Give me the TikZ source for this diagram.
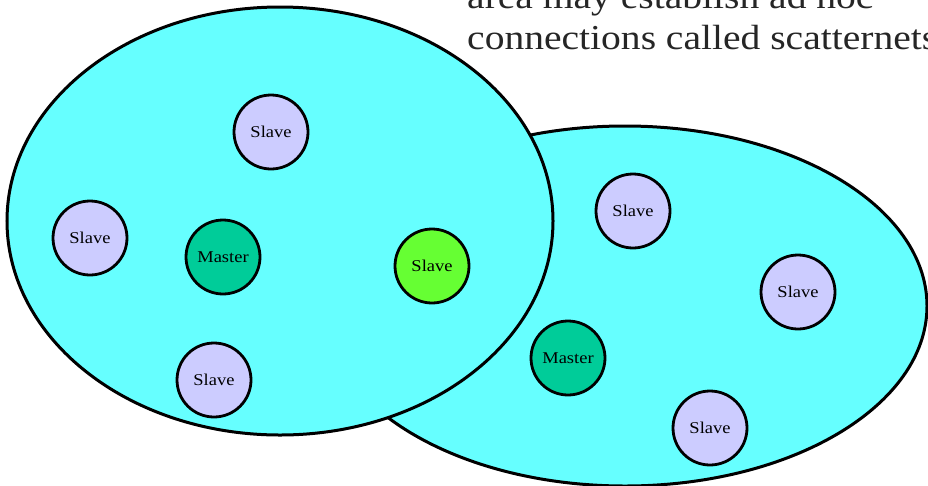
\documentclass[tikz,border=0pt]{standalone}
\usepackage{fontspec}
\newfontfamily\labfont[FakeStretch=1.12]{Liberation Serif}
\newfontfamily\capfont[FakeStretch=1.13]{Liberation Serif}
\definecolor{zonecyan}{HTML}{66FFFF}
\definecolor{slavefill}{HTML}{CCCCFF}
\definecolor{masterfill}{HTML}{00CC99}
\definecolor{bridgefill}{HTML}{66FF33}
\definecolor{captext}{HTML}{262626}
\tikzset{
  zone/.style={fill=zonecyan,draw=black,line width=3pt},
  device/.style={circle,draw=black,line width=2.8pt,minimum size=74pt,inner sep=0pt,
    font=\labfont\fontsize{16.5}{18}\selectfont,text=black},
  slavenode/.style={device,fill=slavefill},
  masternode/.style={device,fill=masterfill},
  bridgenode/.style={device,fill=bridgefill},
  captionline/.style={anchor=base west,inner sep=0pt,text=captext,
    font=\capfont\fontsize{35}{40}\selectfont}
}
\begin{document}
\begin{tikzpicture}[x=1pt,y=-1pt]
\useasboundingbox (0,0) rectangle (928,485);
\clip (0,0) rectangle (928,485);
\fill[white] (0,0) rectangle (928,485);
% text lines (partly cut off, as in the reference)
\node[captionline] (line1) at (467,8) {area may establish ad hoc};
\node[captionline] (line2) at (467,49) {connections called scatternets};
% piconets
\draw[zone] (625,306) ellipse [x radius=302pt, y radius=180pt];
\draw[zone] (280,221) ellipse [x radius=273pt, y radius=214pt];
% left piconet
\node[slavenode]  (s1) at (271,132) {Slave};
\node[slavenode]  (s2) at (90,238)  {Slave};
\node[masternode] (m1) at (223,257) {Master};
\node[bridgenode] (b)  at (432,266) {Slave};
\node[slavenode]  (s3) at (214,380) {Slave};
% right piconet
\node[slavenode]  (s4) at (633,211) {Slave};
\node[slavenode]  (s5) at (798,292) {Slave};
\node[masternode] (m2) at (568,358) {Master};
\node[slavenode]  (s6) at (710,428) {Slave};
\end{tikzpicture}
\end{document}
